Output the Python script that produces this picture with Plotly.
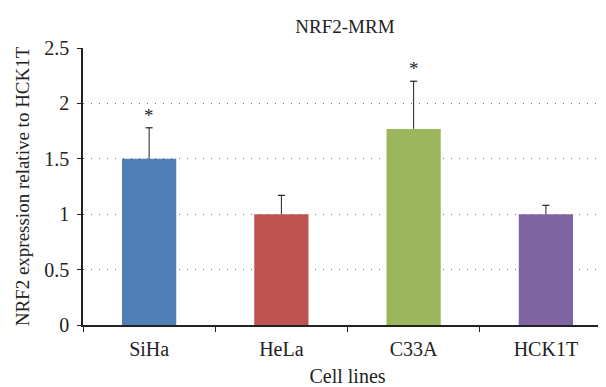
import plotly.graph_objects as go

categories = ["SiHa", "HeLa", "C33A", "HCK1T"]
values = [1.50, 1.00, 1.77, 1.00]
errors = [0.28, 0.17, 0.43, 0.08]
colors = ["#4F7EB6", "#BD5452", "#9BB65C", "#7E64A0"]
significant = [True, False, True, False]

font_family = "Liberation Serif"
ink = "#222222"

fig = go.Figure()
fig.add_trace(go.Bar(
    x=categories, y=values,
    marker=dict(color=colors, line=dict(width=0)),
    width=0.41,
))
# upward-only error bars: cap marker at top, stem down to bar top
tops = [v + e for v, e in zip(values, errors)]
fig.add_trace(go.Scatter(
    x=categories, y=tops, mode="markers",
    marker=dict(symbol="line-ew", size=5, line=dict(width=1.2, color=ink)),
    error_y=dict(type="data", symmetric=False, array=[0]*len(errors),
                 arrayminus=errors, color=ink, thickness=1, width=0),
    hoverinfo="skip",
))

for c, t, s in zip(categories, tops, significant):
    if s:
        fig.add_annotation(x=c, y=t, text="*", showarrow=False,
                           yanchor="bottom", yshift=0,
                           font=dict(family=font_family, size=19, color=ink))

fig.update_layout(
    width=606, height=387,
    margin=dict(l=75, r=2, t=40, b=70),
    paper_bgcolor="white", plot_bgcolor="white",
    showlegend=False,
    title=dict(text="NRF2-MRM", x=0.556, xanchor="center", y=0.953, yanchor="middle",
               font=dict(family=font_family, size=19, color=ink)),
    font=dict(family=font_family, size=20, color=ink),
)
fig.update_xaxes(
    range=[-0.5, 3.5], automargin=False,
    showline=True, linecolor=ink, linewidth=1.5,
    ticks="outside", tickson="boundaries", ticklen=5, tickcolor=ink,
    ticklabelstandoff=5,
    showgrid=False,
    title=dict(text="Cell lines", standoff=10, font=dict(family=font_family, size=20)),
    tickfont=dict(family=font_family, size=20),
)
fig.update_yaxes(
    range=[0, 2.5], automargin=False,
    tickvals=[0, 0.5, 1, 1.5, 2, 2.5], ticktext=["0", "0.5", "1", "1.5", "2", "2.5"],
    showline=True, linecolor=ink, linewidth=1.5,
    ticks="outside", ticklen=4, tickcolor=ink,
    ticklabelstandoff=4,
    showgrid=True, gridcolor="#777777", griddash="1px,7px", gridwidth=1,
    zeroline=False,
    title=dict(text="NRF2 expression relative to HCK1T", standoff=10,
               font=dict(family=font_family, size=19)),
    tickfont=dict(family=font_family, size=20),
)

fig.write_html("out.html")
